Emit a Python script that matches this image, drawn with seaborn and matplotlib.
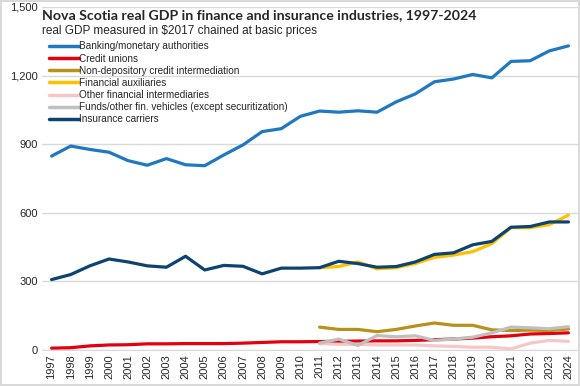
import numpy as np
import pandas as pd
import matplotlib
matplotlib.use('Agg')
import matplotlib.pyplot as plt
import seaborn as sns

years = list(range(1997, 2025))
nan = np.nan

banking = [848, 892, 877, 865, 828, 808, 837, 810, 806, 853, 897, 955, 968, 1022,
           1045, 1040, 1046, 1040, 1085, 1120, 1173, 1185, 1205, 1190, 1262, 1265, 1308, 1330]
credit_unions = [8, 10, 18, 22, 23, 27, 27, 28, 28, 28, 30, 33, 36, 36,
                 37, 38, 39, 40, 40, 42, 45, 48, 52, 58, 62, 70, 72, 75]
non_depository = [nan] * 14 + [100, 90, 90, 80, 90, 105, 118, 108, 108, 88, 85, 87, 85, 92]
fin_auxiliaries = [nan] * 14 + [360, 365, 385, 355, 360, 378, 405, 415, 430, 465, 535, 535, 548, 590]
other_intermediaries = [nan] * 14 + [28, 25, 25, 22, 22, 22, 18, 16, 12, 12, 5, 30, 42, 38]
funds = [nan] * 14 + [30, 48, 20, 63, 58, 62, 42, 48, 56, 75, 100, 97, 93, 102]
insurance = [308, 330, 368, 398, 385, 368, 362, 410, 350, 370, 366, 333, 358, 358,
             360, 388, 378, 362, 365, 385, 418, 425, 460, 475, 537, 540, 560, 560]

series_names = ['Banking/monetary authorities', 'Credit unions',
                'Non-depository credit intermediation', 'Financial auxiliaries',
                'Other financial intermediaries',
                'Funds/other fin. vehicles (except securitization)', 'Insurance carriers']
series_values = [banking, credit_unions, non_depository, fin_auxiliaries,
                 other_intermediaries, funds, insurance]
colors = ['#1F78C1', '#E3000F', '#B8901C', '#FFC000', '#F7C6C6', '#BFBFBF', '#0D4371']

rows = []
for name, vals in zip(series_names, series_values):
    for y, v in zip(years, vals):
        rows.append({'year': y, 'value': v, 'series': name})
df = pd.DataFrame(rows).dropna()

sns.set_style('white')
plt.rcParams['font.family'] = ['Liberation Sans', 'DejaVu Sans']

fig = plt.figure(figsize=(5.8, 3.86), dpi=100)
fig.patch.set_edgecolor('#D9D9D9')
fig.patch.set_linewidth(1.5)
ax = fig.add_axes([42 / 580, 36 / 386, 536 / 580, 343 / 386])

sns.lineplot(data=df, x='year', y='value', hue='series', hue_order=series_names,
             palette=colors, linewidth=2.3, ax=ax, legend=True)

ax.set_xlim(1996.5, 2024.5)
ax.set_ylim(0, 1500)
ax.set_yticks([0, 300, 600, 900, 1200, 1500])
ax.set_yticklabels(['0', '300', '600', '900', '1,200', '1,500'], fontsize=8)
ax.set_xticks(years)
ax.set_xticklabels([str(y) for y in years], rotation=90, fontsize=8)
ax.tick_params(axis='both', length=0, pad=3)
ax.grid(axis='y', color='#D9D9D9', linewidth=1)
ax.set_axisbelow(True)
for s in ['top', 'right', 'left']:
    ax.spines[s].set_visible(False)
ax.spines['bottom'].set_color('#D9D9D9')
ax.set_xlabel('')
ax.set_ylabel('')

ax.text(0.0, 0.995, 'Nova Scotia real GDP in finance and insurance industries, 1997-2024',
        transform=ax.transAxes, fontweight='bold', va='top', ha='left',
        family=['Lato', 'Liberation Sans'], fontsize=10.2)
ax.text(0.0, 0.948, 'real GDP measured in $2017 chained at basic prices',
        transform=ax.transAxes, fontsize=8.5, va='top', ha='left')

leg = ax.legend(loc='upper left', bbox_to_anchor=(0.013, 0.900), frameon=False,
                fontsize=7.2, handlelength=3.0, handletextpad=0.0, labelspacing=0.22,
                borderaxespad=0, borderpad=0, title=None)
for line in leg.get_lines():
    line.set_linewidth(2.5)

fig.savefig('out.png', dpi=100)
